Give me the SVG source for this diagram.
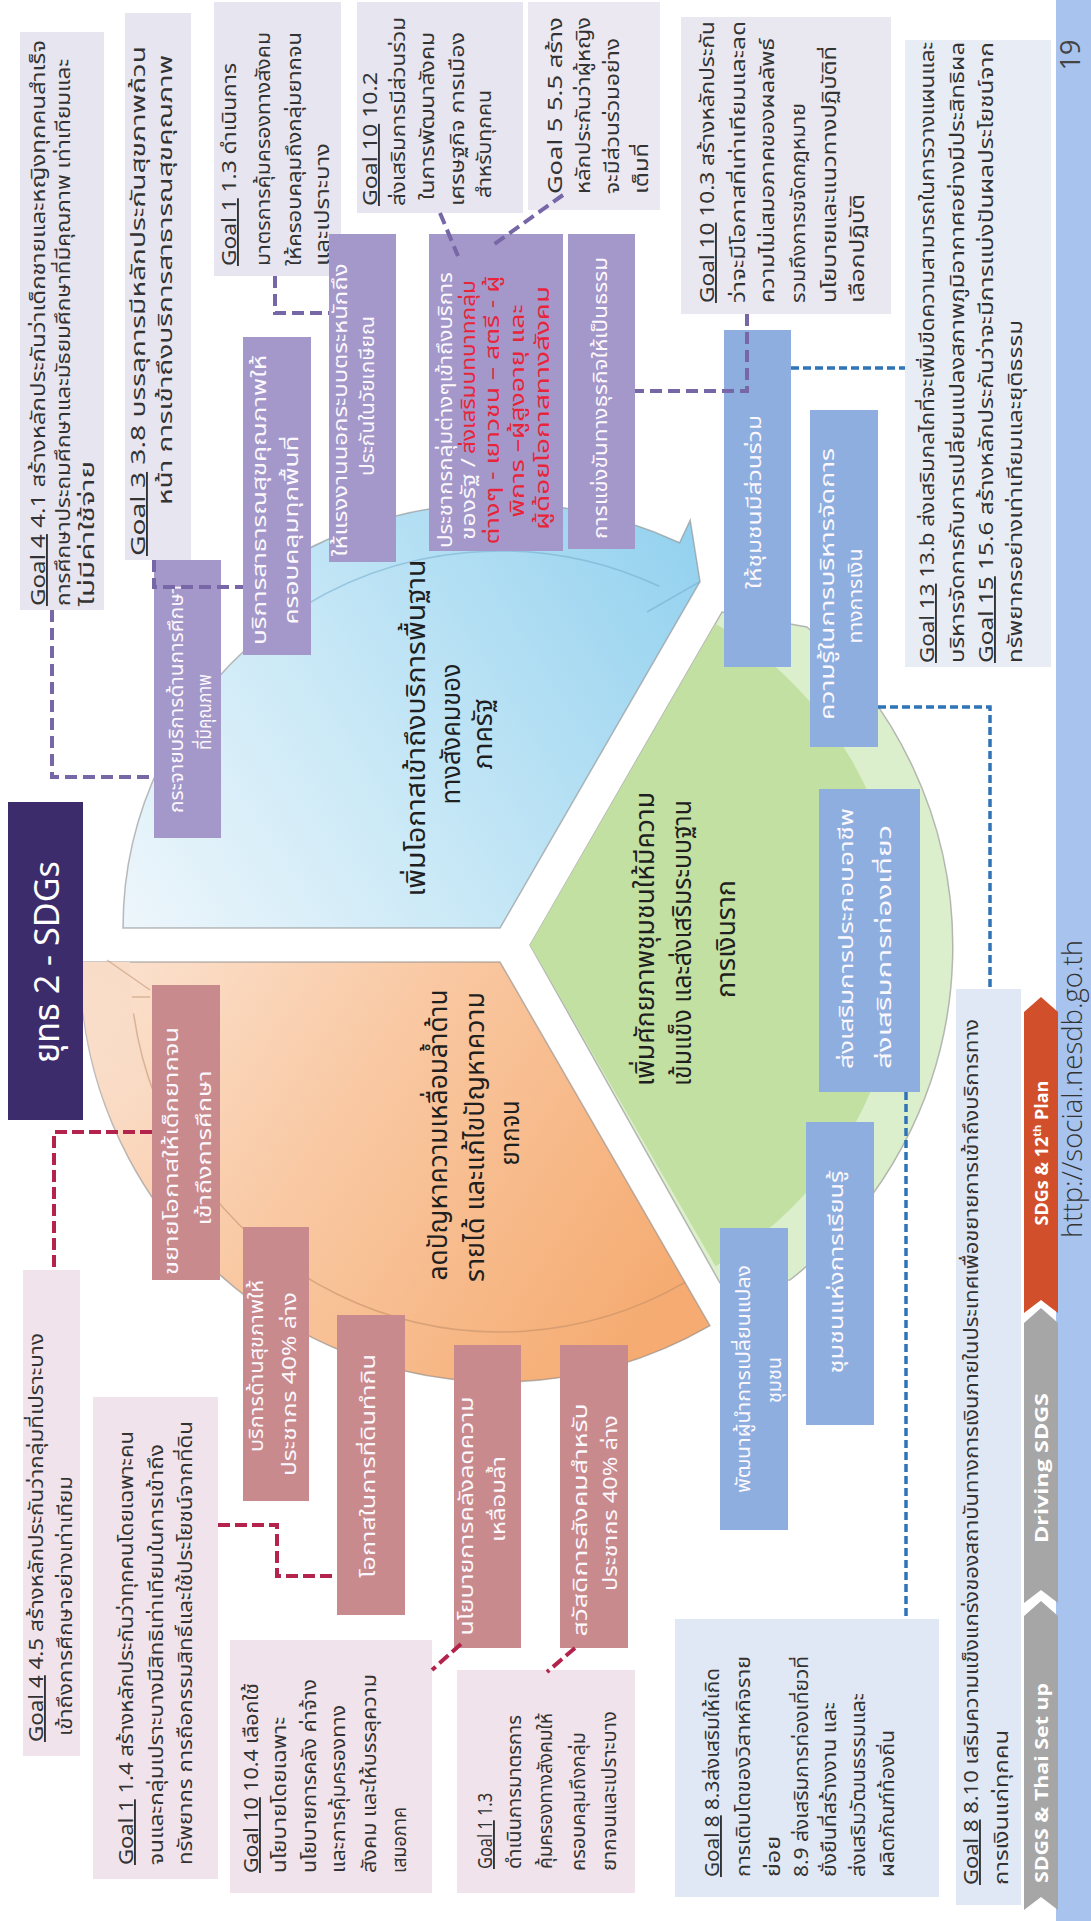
<svg xmlns="http://www.w3.org/2000/svg" width="1091" height="1921" viewBox="0 0 1091 1921">
<defs>
<style>
text{font-family:'Noto Sans Thai','Noto Sans Thai UI','Noto Looped Thai','Sarabun','Loma','Garuda','Waree','Tlwg Typo','Noto Sans','DejaVu Sans',sans-serif}
.g{font-size:19px;fill:#333}
.w{font-size:19px;fill:#fbf8fd}
.r{font-size:19px;fill:#e8243a}
.t{font-size:27px;fill:#1f1f1f}
.u{text-decoration:underline}
.gl{fill:#e7e5ef}
.gp{fill:#f0e3eb}
.gbx{fill:#e1e8f5}
.pb{fill:#a497c9}
.bb{fill:#8eaee0}
.rb{fill:#c98a8e}
.cp{fill:none;stroke:#7867a6;stroke-width:4;stroke-dasharray:12 6}
.cr{fill:none;stroke:#b3234b;stroke-width:4;stroke-dasharray:12 5}
.cb{fill:none;stroke:#2f74b7;stroke-width:3.5;stroke-dasharray:8 4}
.sec{stroke:#8c8c8c;stroke-width:1.5;stroke-opacity:.6}
.chv{font-size:18px;font-weight:bold;fill:#fff;font-family:'Open Sans','Liberation Sans',sans-serif}
</style>
<linearGradient id="gBlue" gradientUnits="userSpaceOnUse" x1="120" y1="930" x2="700" y2="560">
<stop offset="0" stop-color="#eef6fb"/><stop offset=".4" stop-color="#cdeaf7"/><stop offset="1" stop-color="#95d2ef"/>
</linearGradient>
<linearGradient id="gOrange" gradientUnits="userSpaceOnUse" x1="90" y1="960" x2="650" y2="1330">
<stop offset="0" stop-color="#fbe3d2"/><stop offset=".45" stop-color="#f9c8a2"/><stop offset="1" stop-color="#f5ab71"/>
</linearGradient>
<linearGradient id="gHead" gradientUnits="userSpaceOnUse" x1="0" y1="962" x2="0" y2="1172">
<stop offset="0" stop-color="#f8dcc8"/><stop offset="1" stop-color="#f8dcc8" stop-opacity="0"/>
</linearGradient>
</defs>
<rect x="0" y="0" width="1091" height="1921" fill="#fff"/>
<rect id="side-bar" x="1056" y="0" width="35" height="1921" fill="#a7c3ee"/>

<!-- sectors -->
<g id="sector-blue">
<path class="sec" fill="url(#gBlue)" d="M500 928 L123 928 A377 377 0 0 1 283.8 619.2 L256.2 579.8 A425 425 0 0 1 679.6 542.8 L690.2 520.2 L700 581.6 Z"/>
<path d="M283.8 619.2 A377 377 0 0 1 659.3 586.3 M647 612 L700 581.6" fill="none" stroke="#6fa8c8" stroke-width="1.5" stroke-opacity=".5"/>
<text class="t" text-anchor="middle" transform="translate(425 728) rotate(-90)" textLength="337" lengthAdjust="spacingAndGlyphs">เพิ่มโอกาสเข้าถึงบริการพื้นฐาน</text>
<text class="t" text-anchor="middle" transform="translate(460 734) rotate(-90)" textLength="141" lengthAdjust="spacingAndGlyphs">ทางสังคมของ</text>
<text class="t" text-anchor="middle" transform="translate(492 734) rotate(-90)" textLength="71" lengthAdjust="spacingAndGlyphs">ภาครัฐ</text>
</g>
<g id="sector-orange">
<path class="sec" fill="url(#gOrange)" d="M500 962 L710 1325.7 A420 420 0 0 1 80 962 Z"/>
<path d="M80 962 L130 962 A370 370 0 0 0 179.6 1147 L136.3 1172 A420 420 0 0 1 80 962 Z" fill="url(#gHead)"/>
<path d="M685 1282.4 A370 370 0 0 1 133.6 1013.5 M107 960 L150 990 M132 997 L150 997" fill="none" stroke="#b98a66" stroke-width="1.5" stroke-opacity=".5"/>
<text class="t" text-anchor="middle" transform="translate(447 1135) rotate(-90)" textLength="291" lengthAdjust="spacingAndGlyphs">ลดปัญหาความเหลื่อมล้ำด้าน</text>
<text class="t" text-anchor="middle" transform="translate(484 1137) rotate(-90)" textLength="290" lengthAdjust="spacingAndGlyphs">รายได้ และแก้ไขปัญหาความ</text>
<text class="t" text-anchor="middle" transform="translate(519 1133) rotate(-90)" textLength="65" lengthAdjust="spacingAndGlyphs">ยากจน</text>
</g>
<g id="sector-green">
<path class="sec" fill="#dcefcc" d="M530 945 L722 612 L807 627 A423 423 0 0 1 790 1280 L720 1283 Z"/>
<path fill="#c3e0a3" d="M530 945 L715.5 623.7 A371 371 0 0 1 715.5 1266.3 Z"/>
<text class="t" text-anchor="middle" transform="translate(654 939) rotate(-90)" textLength="294" lengthAdjust="spacingAndGlyphs">เพิ่มศักยภาพชุมชนให้มีความ</text>
<text class="t" text-anchor="middle" transform="translate(691 943) rotate(-90)" textLength="286" lengthAdjust="spacingAndGlyphs">เข้มแข็ง และส่งเสริมระบบฐาน</text>
<text class="t" text-anchor="middle" transform="translate(735 939) rotate(-90)" textLength="118" lengthAdjust="spacingAndGlyphs">การเงินราก</text>
</g>

<g id="title">
<rect x="8" y="802" width="75" height="318" fill="#3d2c6b"/>
<text text-anchor="middle" transform="translate(59 962) rotate(-90)" textLength="202" lengthAdjust="spacingAndGlyphs" style="font-size:35px;fill:#fff">ยุทธ 2 - SDGs</text>
</g>

<!-- goal boxes -->
<g id="goal-4-1">
<rect class="gl" x="20" y="32" width="84" height="578"/>
<text class="g" transform="translate(45 606) rotate(-90)" textLength="566" lengthAdjust="spacingAndGlyphs"><tspan class="u">Goal 4</tspan> 4.1 สร้างหลักประกันว่าเด็กชายและหญิงทุกคนสำเร็จ</text>
<text class="g" transform="translate(70 606) rotate(-90)" textLength="547" lengthAdjust="spacingAndGlyphs">การศึกษาประถมศึกษาและมัธยมศึกษาที่มีคุณภาพ เท่าเทียมและ</text>
<text class="g" transform="translate(94 606) rotate(-90)" textLength="145" lengthAdjust="spacingAndGlyphs">ไม่มีค่าใช้จ่าย</text>
</g>
<g id="goal-3-8">
<rect class="gl" x="125" y="13" width="66" height="547"/>
<text class="g" transform="translate(145 556) rotate(-90)" textLength="510" lengthAdjust="spacingAndGlyphs"><tspan class="u">Goal 3</tspan> 3.8 บรรลุการมีหลักประกันสุขภาพถ้วน</text>
<text class="g" transform="translate(172 505) rotate(-90)" textLength="450" lengthAdjust="spacingAndGlyphs">หน้า การเข้าถึงบริการสาธารณสุขคุณภาพ</text>
</g>
<g id="goal-1-3-top">
<rect class="gl" x="214" y="2" width="127" height="274"/>
<text class="g" transform="translate(236 266) rotate(-90)" textLength="203" lengthAdjust="spacingAndGlyphs"><tspan class="u">Goal 1</tspan> 1.3 ดำเนินการ</text>
<text class="g" transform="translate(270 266) rotate(-90)" textLength="234" lengthAdjust="spacingAndGlyphs">มาตรการคุ้มครองทางสังคม</text>
<text class="g" transform="translate(301 266) rotate(-90)" textLength="234" lengthAdjust="spacingAndGlyphs">ให้ครอบคลุมถึงกลุ่มยากจน</text>
<text class="g" transform="translate(329 266) rotate(-90)" textLength="123" lengthAdjust="spacingAndGlyphs">และเปราะบาง</text>
</g>
<g id="goal-10-2">
<rect class="gl" x="357" y="2" width="166" height="211"/>
<text class="g" transform="translate(377 206) rotate(-90)" textLength="134" lengthAdjust="spacingAndGlyphs"><tspan class="u">Goal 10</tspan> 10.2</text>
<text class="g" transform="translate(405 206) rotate(-90)" textLength="189" lengthAdjust="spacingAndGlyphs">ส่งเสริมการมีส่วนร่วม</text>
<text class="g" transform="translate(434 200) rotate(-90)" textLength="168" lengthAdjust="spacingAndGlyphs">ในการพัฒนาสังคม</text>
<text class="g" transform="translate(464 206) rotate(-90)" textLength="174" lengthAdjust="spacingAndGlyphs">เศรษฐกิจ การเมือง</text>
<text class="g" transform="translate(491 198) rotate(-90)" textLength="108" lengthAdjust="spacingAndGlyphs">สำหรับทุกคน</text>
</g>
<g id="goal-5-5">
<rect x="528" y="2" width="132" height="208" fill="#ebe8f1"/>
<text class="g" transform="translate(562 194) rotate(-90)" textLength="177" lengthAdjust="spacingAndGlyphs">Goal 5 5.5 สร้าง</text>
<text class="g" transform="translate(590 194) rotate(-90)" textLength="177" lengthAdjust="spacingAndGlyphs">หลักประกันว่าผู้หญิง</text>
<text class="g" transform="translate(619 194) rotate(-90)" textLength="156" lengthAdjust="spacingAndGlyphs">จะมีส่วนร่วมอย่าง</text>
<text class="g" transform="translate(648 194) rotate(-90)" textLength="51" lengthAdjust="spacingAndGlyphs">เต็มที่</text>
</g>
<g id="goal-10-3">
<rect x="681" y="17" width="210" height="297" fill="#e9e7f0"/>
<text class="g" transform="translate(714 303) rotate(-90)" textLength="282" lengthAdjust="spacingAndGlyphs"><tspan class="u">Goal 10</tspan> 10.3 สร้างหลักประกัน</text>
<text class="g" transform="translate(745 303) rotate(-90)" textLength="282" lengthAdjust="spacingAndGlyphs">ว่าจะมีโอกาสที่เท่าเทียมและลด</text>
<text class="g" transform="translate(774 303) rotate(-90)" textLength="265" lengthAdjust="spacingAndGlyphs">ความไม่เสมอภาคของผลลัพธ์</text>
<text class="g" transform="translate(805 303) rotate(-90)" textLength="200" lengthAdjust="spacingAndGlyphs">รวมถึงการขจัดกฎหมาย</text>
<text class="g" transform="translate(836 303) rotate(-90)" textLength="257" lengthAdjust="spacingAndGlyphs">นโยบายและแนวทางปฏิบัติที่</text>
<text class="g" transform="translate(864 303) rotate(-90)" textLength="109" lengthAdjust="spacingAndGlyphs">เลือกปฏิบัติ</text>
</g>
<g id="goal-13-15">
<rect x="905" y="40" width="146" height="627" fill="#e8ecf5"/>
<text class="g" transform="translate(934 663) rotate(-90)" textLength="621" lengthAdjust="spacingAndGlyphs"><tspan class="u">Goal 13</tspan> 13.b ส่งเสริมกลไกที่จะเพิ่มขีดความสามารถในการวางแผนและ</text>
<text class="g" transform="translate(964 663) rotate(-90)" textLength="621" lengthAdjust="spacingAndGlyphs">บริหารจัดการกับการเปลี่ยนแปลงสภาพภูมิอากาศอย่างมีประสิทธิผล</text>
<text class="g" transform="translate(993 663) rotate(-90)" textLength="621" lengthAdjust="spacingAndGlyphs"><tspan class="u">Goal 15</tspan> 15.6 สร้างหลักประกันว่าจะมีการแบ่งปันผลประโยชน์จาก</text>
<text class="g" transform="translate(1022 663) rotate(-90)" textLength="343" lengthAdjust="spacingAndGlyphs">ทรัพยากรอย่างเท่าเทียมและยุติธรรม</text>
</g>
<g id="goal-4-5">
<rect class="gp" x="23" y="1270" width="57" height="486"/>
<text class="g" transform="translate(43 1742) rotate(-90)" textLength="409" lengthAdjust="spacingAndGlyphs"><tspan class="u">Goal 4</tspan> 4.5 สร้างหลักประกันว่ากลุ่มที่เปราะบาง</text>
<text class="g" transform="translate(72 1736) rotate(-90)" textLength="260" lengthAdjust="spacingAndGlyphs">เข้าถึงการศึกษาอย่างเท่าเทียม</text>
</g>
<g id="goal-1-4">
<rect class="gp" x="93" y="1397" width="125" height="482"/>
<text class="g" transform="translate(133 1865) rotate(-90)" textLength="434" lengthAdjust="spacingAndGlyphs"><tspan class="u">Goal 1</tspan> 1.4 สร้างหลักประกันว่าทุกคนโดยเฉพาะคน</text>
<text class="g" transform="translate(163 1865) rotate(-90)" textLength="421" lengthAdjust="spacingAndGlyphs">จนและกลุ่มเปราะบางมีสิทธิเท่าเทียมในการเข้าถึง</text>
<text class="g" transform="translate(192 1865) rotate(-90)" textLength="444" lengthAdjust="spacingAndGlyphs">ทรัพยากร การถือกรรมสิทธิ์และใช้ประโยชน์จากที่ดิน</text>
</g>
<g id="goal-10-4">
<rect class="gp" x="230" y="1640" width="202" height="253"/>
<text class="g" transform="translate(258 1873) rotate(-90)" textLength="190" lengthAdjust="spacingAndGlyphs"><tspan class="u">Goal 10</tspan> 10.4 เลือกใช้</text>
<text class="g" transform="translate(286 1873) rotate(-90)" textLength="156" lengthAdjust="spacingAndGlyphs">นโยบายโดยเฉพาะ</text>
<text class="g" transform="translate(316 1873) rotate(-90)" textLength="194" lengthAdjust="spacingAndGlyphs">นโยบายการคลัง ค่าจ้าง</text>
<text class="g" transform="translate(345 1873) rotate(-90)" textLength="168" lengthAdjust="spacingAndGlyphs">และการคุ้มครองทาง</text>
<text class="g" transform="translate(376 1873) rotate(-90)" textLength="199" lengthAdjust="spacingAndGlyphs">สังคม และให้บรรลุความ</text>
<text class="g" transform="translate(406 1873) rotate(-90)" textLength="66" lengthAdjust="spacingAndGlyphs">เสมอภาค</text>
</g>
<g id="goal-1-3-bottom">
<rect class="gp" x="457" y="1670" width="178" height="223"/>
<text class="g" transform="translate(492 1869) rotate(-90)" textLength="76" lengthAdjust="spacingAndGlyphs"><tspan class="u">Goal 1</tspan> 1.3</text>
<text class="g" transform="translate(521 1869) rotate(-90)" textLength="154" lengthAdjust="spacingAndGlyphs">ดำเนินการมาตรการ</text>
<text class="g" transform="translate(552 1869) rotate(-90)" textLength="156" lengthAdjust="spacingAndGlyphs">คุ้มครองทางสังคมให้</text>
<text class="g" transform="translate(585 1871) rotate(-90)" textLength="139" lengthAdjust="spacingAndGlyphs">ครอบคลุมถึงกลุ่ม</text>
<text class="g" transform="translate(616 1871) rotate(-90)" textLength="160" lengthAdjust="spacingAndGlyphs">ยากจนและเปราะบาง</text>
</g>
<g id="goal-8-3">
<rect class="gbx" x="675" y="1619" width="264" height="278"/>
<text class="g" transform="translate(719 1877) rotate(-90)" textLength="209" lengthAdjust="spacingAndGlyphs"><tspan class="u">Goal 8</tspan> 8.3ส่งเสริมให้เกิด</text>
<text class="g" transform="translate(750 1877) rotate(-90)" textLength="221" lengthAdjust="spacingAndGlyphs">การเติบโตของวิสาหกิจราย</text>
<text class="g" transform="translate(780 1877) rotate(-90)" textLength="41" lengthAdjust="spacingAndGlyphs">ย่อย</text>
<text class="g" transform="translate(808 1877) rotate(-90)" textLength="221" lengthAdjust="spacingAndGlyphs">8.9 ส่งเสริมการท่องเที่ยวที่</text>
<text class="g" transform="translate(836 1877) rotate(-90)" textLength="175" lengthAdjust="spacingAndGlyphs">ยั่งยืนที่สร้างงาน และ</text>
<text class="g" transform="translate(865 1877) rotate(-90)" textLength="184" lengthAdjust="spacingAndGlyphs">ส่งเสริมวัฒนธรรมและ</text>
<text class="g" transform="translate(894 1877) rotate(-90)" textLength="147" lengthAdjust="spacingAndGlyphs">ผลิตภัณฑ์ท้องถิ่น</text>
</g>
<g id="goal-8-10">
<rect class="gbx" x="956" y="989" width="65" height="916"/>
<text class="g" transform="translate(978 1885) rotate(-90)" textLength="866" lengthAdjust="spacingAndGlyphs"><tspan class="u">Goal 8</tspan> 8.10 เสริมความแข็งแกร่งของสถาบันทางการเงินภายในประเทศเพื่อขยายการเข้าถึงบริการทาง</text>
<text class="g" transform="translate(1008 1885) rotate(-90)" textLength="155" lengthAdjust="spacingAndGlyphs">การเงินแก่ทุกคน</text>
</g>

<!-- purple action boxes -->
<g id="p-education">
<rect class="pb" x="154" y="560" width="67" height="278"/>
<text class="w" text-anchor="middle" transform="translate(183 699) rotate(-90)" textLength="228" lengthAdjust="spacingAndGlyphs">กระจายบริการด้านการศึกษา</text>
<text class="w" text-anchor="middle" transform="translate(211 712) rotate(-90)" textLength="76" lengthAdjust="spacingAndGlyphs">ที่มีคุณภาพ</text>
</g>
<g id="p-health">
<rect class="pb" x="243" y="337" width="68" height="318"/>
<text class="w" text-anchor="middle" transform="translate(266 500) rotate(-90)" textLength="290" lengthAdjust="spacingAndGlyphs">บริการสาธารณสุขคุณภาพให้</text>
<text class="w" text-anchor="middle" transform="translate(298 530) rotate(-90)" textLength="189" lengthAdjust="spacingAndGlyphs">ครอบคลุมทุกพื้นที่</text>
</g>
<g id="p-labour">
<rect class="pb" x="329" y="234" width="67" height="328"/>
<text class="w" text-anchor="middle" transform="translate(347 410) rotate(-90)" textLength="293" lengthAdjust="spacingAndGlyphs">ให้แรงงานนอกระบบตระหนักถึง</text>
<text class="w" text-anchor="middle" transform="translate(374 396) rotate(-90)" textLength="160" lengthAdjust="spacingAndGlyphs">ประกันในวัยเกษียณ</text>
</g>
<g id="p-groups">
<rect class="pb" x="429" y="234" width="134" height="317"/>
<text class="w" text-anchor="middle" transform="translate(452 410) rotate(-90)" textLength="276" lengthAdjust="spacingAndGlyphs">ประชากรกลุ่มต่างๆเข้าถึงบริการ</text>
<text class="w" transform="translate(475 540) rotate(-90)" textLength="82" lengthAdjust="spacingAndGlyphs">ของรัฐ /</text>
<text class="r" transform="translate(475 454) rotate(-90)" textLength="174" lengthAdjust="spacingAndGlyphs">ส่งเสริมบทบาทกลุ่ม</text>
<text class="r" text-anchor="middle" transform="translate(499 410) rotate(-90)" textLength="269" lengthAdjust="spacingAndGlyphs">ต่างๆ - เยาวชน – สตรี - ผู้</text>
<text class="r" text-anchor="middle" transform="translate(524 411) rotate(-90)" textLength="213" lengthAdjust="spacingAndGlyphs">พิการ –ผู้สูงอายุ และ</text>
<text class="r" text-anchor="middle" transform="translate(549 408) rotate(-90)" textLength="244" lengthAdjust="spacingAndGlyphs">ผู้ด้อยโอกาสทางสังคม</text>
</g>
<g id="p-competition">
<rect class="pb" x="568" y="234" width="67" height="315"/>
<text class="w" text-anchor="middle" transform="translate(607 398) rotate(-90)" textLength="282" lengthAdjust="spacingAndGlyphs">การแข่งขันทางธุรกิจให้เป็นธรรม</text>
</g>

<!-- blue action boxes -->
<g id="b-participation">
<rect class="bb" x="724" y="330" width="67" height="337"/>
<text class="w" text-anchor="middle" transform="translate(761 502) rotate(-90)" textLength="174" lengthAdjust="spacingAndGlyphs">ให้ชุมชนมีส่วนร่วม</text>
</g>
<g id="b-finance">
<rect class="bb" x="810" y="410" width="68" height="337"/>
<text class="w" text-anchor="middle" transform="translate(834 584) rotate(-90)" textLength="272" lengthAdjust="spacingAndGlyphs">ความรู้ในการบริหารจัดการ</text>
<text class="w" text-anchor="middle" transform="translate(862 596) rotate(-90)" textLength="95" lengthAdjust="spacingAndGlyphs">ทางการเงิน</text>
</g>
<g id="b-occupation">
<rect class="bb" x="819" y="789" width="101" height="303"/>
<text class="w" transform="translate(853 1069) rotate(-90)" textLength="261" lengthAdjust="spacingAndGlyphs">ส่งเสริมการประกอบอาชีพ</text>
<text class="w" transform="translate(891 1069) rotate(-90)" textLength="244" lengthAdjust="spacingAndGlyphs">ส่งเสริมการท่องเที่ยว</text>
</g>
<g id="b-learning">
<rect class="bb" x="806" y="1122" width="68" height="303"/>
<text class="w" text-anchor="middle" transform="translate(843 1272) rotate(-90)" textLength="203" lengthAdjust="spacingAndGlyphs">ชุมชนแห่งการเรียนรู้</text>
</g>
<g id="b-leaders">
<rect class="bb" x="720" y="1228" width="68" height="302"/>
<text class="w" text-anchor="middle" transform="translate(750 1379) rotate(-90)" textLength="228" lengthAdjust="spacingAndGlyphs">พัฒนาผู้นำการเปลี่ยนแปลง</text>
<text class="w" text-anchor="middle" transform="translate(781 1380) rotate(-90)" textLength="46" lengthAdjust="spacingAndGlyphs">ชุมชน</text>
</g>

<!-- rose action boxes -->
<g id="r-education">
<rect class="rb" x="152" y="985" width="68" height="295"/>
<text class="w" text-anchor="middle" transform="translate(178 1151) rotate(-90)" textLength="248" lengthAdjust="spacingAndGlyphs">ขยายโอกาสให้เด็กยากจน</text>
<text class="w" text-anchor="middle" transform="translate(211 1148) rotate(-90)" textLength="155" lengthAdjust="spacingAndGlyphs">เข้าถึงการศึกษา</text>
</g>
<g id="r-health">
<rect class="rb" x="243" y="1227" width="66" height="274"/>
<text class="w" text-anchor="middle" transform="translate(263 1366) rotate(-90)" textLength="172" lengthAdjust="spacingAndGlyphs">บริการด้านสุขภาพให้</text>
<text class="w" text-anchor="middle" transform="translate(296 1384) rotate(-90)" textLength="184" lengthAdjust="spacingAndGlyphs">ประชากร 40% ล่าง</text>
</g>
<g id="r-land">
<rect class="rb" x="337" y="1315" width="68" height="300"/>
<text class="w" text-anchor="middle" transform="translate(375 1466) rotate(-90)" textLength="224" lengthAdjust="spacingAndGlyphs">โอกาสในการที่ดินทำกิน</text>
</g>
<g id="r-fiscal">
<rect class="rb" x="454" y="1345" width="67" height="303"/>
<text class="w" text-anchor="middle" transform="translate(473 1516) rotate(-90)" textLength="239" lengthAdjust="spacingAndGlyphs">นโยบายการคลังลดความ</text>
<text class="w" text-anchor="middle" transform="translate(505 1499) rotate(-90)" textLength="86" lengthAdjust="spacingAndGlyphs">เหลื่อมล้ำ</text>
</g>
<g id="r-welfare">
<rect class="rb" x="560" y="1345" width="68" height="303"/>
<text class="w" text-anchor="middle" transform="translate(587 1520) rotate(-90)" textLength="233" lengthAdjust="spacingAndGlyphs">สวัสดิการสังคมสำหรับ</text>
<text class="w" text-anchor="middle" transform="translate(617 1503) rotate(-90)" textLength="176" lengthAdjust="spacingAndGlyphs">ประชากร 40% ล่าง</text>
</g>

<!-- footer -->
<g id="chevron-setup">
<polygon points="1024,1616 1041,1601 1058,1616 1058,1910 1041,1897 1024,1910" fill="#a6a6a6"/>
<text class="chv" text-anchor="middle" transform="translate(1048 1783) rotate(-90)" textLength="200" lengthAdjust="spacingAndGlyphs">SDGS &amp; Thai Set up</text>
</g>
<g id="chevron-driving">
<polygon points="1024,1323 1041,1308 1058,1323 1058,1603 1041,1590 1024,1603" fill="#a6a6a6"/>
<text class="chv" text-anchor="middle" transform="translate(1048 1468) rotate(-90)" textLength="150" lengthAdjust="spacingAndGlyphs">Driving SDGS</text>
</g>
<g id="chevron-plan">
<polygon points="1024,1012 1041,997 1058,1012 1058,1313 1041,1300 1024,1313" fill="#d14f2a"/>
<text class="chv" text-anchor="middle" transform="translate(1048 1153) rotate(-90)">SDGs &amp; 12<tspan baseline-shift="super" style="font-size:11px">th</tspan> Plan</text>
</g>
<text id="url" transform="translate(1082 1238) rotate(-90)" textLength="298" lengthAdjust="spacingAndGlyphs" style="font-family:'Open Sans','Liberation Sans',sans-serif;font-size:28px;fill:#333;font-weight:300">http://social.nesdb.go.th</text>
<text id="page-number" text-anchor="middle" transform="translate(1080 55) rotate(-90)" style="font-family:'Open Sans','Liberation Sans',sans-serif;font-size:27px;fill:#444">19</text>

<!-- connectors -->
<g id="connectors">
<path class="cp" d="M52 610 V777 H154"/>
<path class="cp" d="M154 560 V587 H243"/>
<path class="cp" d="M275 276 V313 H329"/>
<path class="cp" d="M440 213 L458 256"/>
<path class="cp" d="M563 195 L493 245"/>
<path class="cp" d="M747 314 V391 H635"/>
<path class="cr" d="M152 1132 H54 V1270"/>
<path class="cr" d="M218 1525 H277 V1576 H337"/>
<path class="cr" d="M461 1644 L432 1670"/>
<path class="cr" d="M575 1648 L547 1672"/>
<path class="cb" d="M791 368 H905"/>
<path class="cb" d="M878 707 H990 V989"/>
<path class="cb" d="M906 1092 V1619"/>
</g>
</svg>
